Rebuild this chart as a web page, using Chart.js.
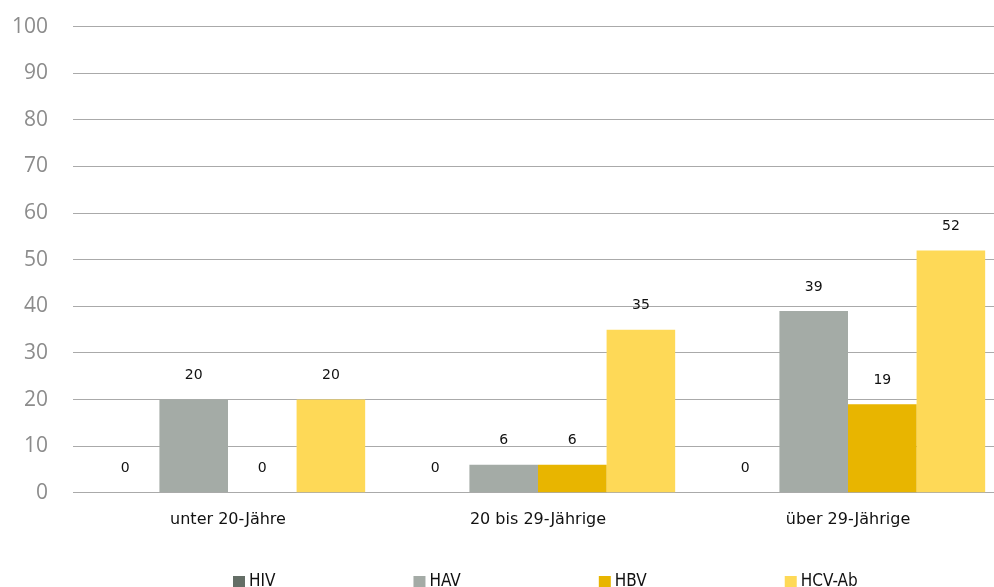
<!DOCTYPE html>
<html>
<head>
<meta charset="utf-8">
<script src="https://cdn.jsdelivr.net/npm/chart.js@4.4.1/dist/chart.umd.min.js"></script>
<style>
  html, body { margin: 0; padding: 0; background: #fff; }
  #clip { width: 994px; height: 587px; overflow: hidden; position: relative; }
  #wrap { width: 1003px; height: 598px; position: relative; top: -11px; }
</style>
</head>
<body>
<div id="clip"><div id="wrap"><canvas id="bar-chart"></canvas></div></div>
<script>
// data
const categories = ["unter 20-Jähre", "20 bis 29-Jährige", "über 29-Jährige"];
const seriesNames = ["HIV", "HAV", "HBV", "HCV-Ab"];
const hiv = [0, 0, 0];
const hav = [20, 6, 39];
const hbv = [0, 6, 19];
const hcv = [20, 35, 52];
const yTicks = [0, 10, 20, 30, 40, 50, 60, 70, 80, 90, 100];

const colors = ["#646e66", "#a4aba6", "#e8b500", "#fed957"];

// value labels above each bar
const valueLabels = {
  id: "valueLabels",
  afterDatasetsDraw(chart) {
    const ctx = chart.ctx;
    ctx.save();
    ctx.font = "14px 'DejaVu Sans'";
    ctx.fillStyle = "#111";
    ctx.textAlign = "center";
    ctx.textBaseline = "middle";
    chart.data.datasets.forEach((ds, i) => {
      chart.getDatasetMeta(i).data.forEach((bar, j) => {
        ctx.fillText(ds.data[j], bar.x, bar.y - 24);
      });
    });
    ctx.restore();
  }
};

// legend drawn along the bottom
const bottomLegend = {
  id: "bottomLegend",
  afterDraw(chart) {
    const ctx = chart.ctx;
    ctx.save();
    ctx.font = "17px 'DejaVu Sans Condensed', 'DejaVu Sans'";
    ctx.textBaseline = "alphabetic";
    let x = 233;
    const h = chart.height;
    chart.data.datasets.forEach((ds) => {
      ctx.fillStyle = ds.backgroundColor;
      ctx.fillRect(x, h - 11, 12, 12);
      ctx.fillStyle = "#111";
      ctx.fillText(ds.label, x + 16, h - 1);
      x += 16 + ctx.measureText(ds.label).width + 138;
    });
    ctx.restore();
  }
};

const allSeries = [hiv, hav, hbv, hcv];

new Chart(document.getElementById("bar-chart"), {
  type: 'bar',
  data: {
    labels: categories,
    datasets: allSeries.map((d, i) => ({
      label: seriesNames[i],
      data: d,
      backgroundColor: colors[i],
      borderWidth: 0,
      categoryPercentage: 0.885,
      barPercentage: 1.0
    }))
  },
  options: {
    responsive: true,
    maintainAspectRatio: false,
    animation: false,
    layout: { padding: { top: 5, right: 0, bottom: 41, left: 0 } },
    plugins: {
      legend: { display: false },
      tooltip: { enabled: false }
    },
    scales: {
      x: {
        grid: { display: false, drawTicks: false },
        border: { display: false },
        ticks: {
          padding: 17,
          color: "#111",
          font: { family: "DejaVu Sans", size: 16 }
        }
      },
      y: {
        min: 0,
        max: 100,
        afterBuildTicks(scale) {
          scale.ticks = yTicks.map(v => ({ value: v }));
        },
        afterFit(scale) { scale.width = 73; },
        grid: { color: "#aaaaaa", lineWidth: 1, drawTicks: false },
        border: { display: false },
        ticks: {
          padding: 25,
          color: "#8c8c8c",
          font: { family: "Open Sans", size: 21 }
        }
      }
    }
  },
  plugins: [valueLabels, bottomLegend]
});
</script>
</body>
</html>
